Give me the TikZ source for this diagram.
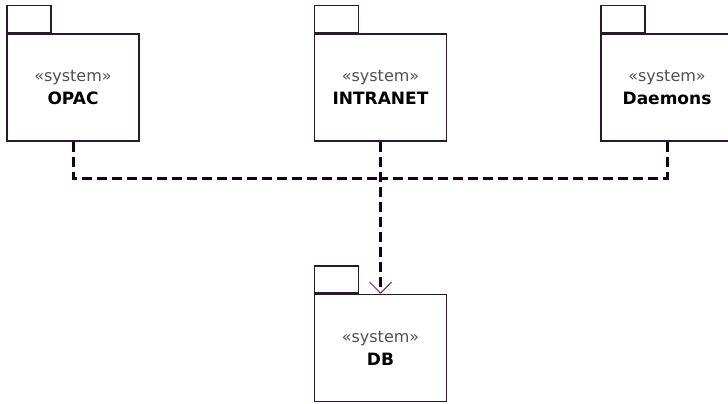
\documentclass[tikz,border=0pt]{standalone}
\usepackage{fontspec}
\setmainfont{DejaVu Sans}
\usetikzlibrary{arrows.meta}
\definecolor{pkgline}{RGB}{45,25,45}
\definecolor{depline}{RGB}{25,0,25}
\definecolor{tipcol}{RGB}{120,30,120}
\definecolor{stereocol}{RGB}{80,80,80}
\newcommand{\stereotag}{{\fontsize{16}{18}\selectfont\mdseries\color{stereocol}«system»}}

\begin{document}
\begin{tikzpicture}[x=1pt, y=-1pt,
  package/.style={draw=pkgline, line width=1.5pt, fill=white, rectangle,
    minimum width=132pt, minimum height=107pt, inner sep=0pt, align=center,
    font=\fontsize{17}{23}\selectfont\bfseries},
  tab/.style={draw=pkgline, line width=1.5pt, fill=white, rectangle,
    minimum width=44pt, minimum height=27pt, inner sep=0pt, anchor=south west},
  depend/.style={draw=depline, line width=3pt, dash pattern=on 10pt off 5pt}]

  \useasboundingbox (0,0) rectangle (728,404);

  % Draw the three upper packages
  \node[package] (opac) at (73,87.5) {\stereotag\\OPAC};
  \node[tab] (opactab) at (opac.north west) {};

  \node[package] (intranet) at (380.5,87.5) {\stereotag\\INTRANET};
  \node[tab] (intranettab) at (intranet.north west) {};

  \node[package] (daemons) at (667,87.5) {\stereotag\\Daemons};
  \node[tab] (daemonstab) at (daemons.north west) {};

  % Draw the database package
  \node[package] (db) at (380.5,348) {\stereotag\\DB};
  \node[tab] (dbtab) at (db.north west) {};

  % Draw the dependencies meeting on the bus line
  \coordinate (bus) at (intranet.south |- 0,178);
  \draw[depend] (opac.south) |- (bus);
  \draw[depend] (daemons.south) |- (bus);
  \draw[depend, -{Straight Barb[length=11pt, width=22pt, line width=1pt, color=tipcol]}] (intranet.south) -- (db.north);

\end{tikzpicture}
\end{document}
